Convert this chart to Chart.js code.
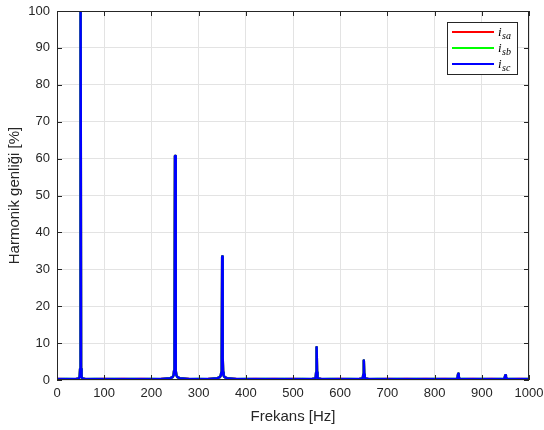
<!DOCTYPE html>
<html>
<head>
<meta charset="utf-8">
<script src="https://cdn.jsdelivr.net/npm/chart.js@4/dist/chart.umd.min.js"></script>
<style>
html,body{margin:0;padding:0;background:#fff;}
#wrap{width:544px;height:430px;position:relative;}
</style>
</head>
<body>
<div id="wrap"><canvas id="c" width="544" height="430"></canvas></div>
<script>
// Frequency axis samples [Hz]
const freqs = [0,20,40,46,48,49,50,51,52,54,60,80,100,120,140,160,180,200,220,240,245,247,248,249,250,251,252,253,255,260,280,300,320,340,345,347,348,349,350,351,352,353,355,360,380,400,420,440,460,480,500,520,540,546,548,549,550,551,552,554,560,580,600,620,640,646,648,649,650,651,652,654,660,680,700,720,740,760,780,800,820,840,846,848,849,850,851,852,854,860,880,900,920,940,946,948,949,950,951,952,954,960,980,1000];
// Harmonic amplitude [%] per phase current
const isa = [0.3,0.2,0.3,0.4,0.8,3,100,3,0.8,0.4,0.3,0.2,0.3,0.2,0.3,0.2,0.3,0.2,0.3,0.5,0.8,1.3,2.5,8,60.7,8,2.5,1.3,0.8,0.5,0.3,0.2,0.3,0.5,0.8,1.2,2,6,33.5,6,2,1.2,0.8,0.5,0.3,0.2,0.3,0.2,0.3,0.2,0.3,0.2,0.3,0.4,0.6,2,8.9,2,0.6,0.4,0.3,0.2,0.3,0.2,0.3,0.4,0.6,1.5,5.3,1.5,0.6,0.4,0.3,0.2,0.3,0.2,0.3,0.2,0.3,0.2,0.3,0.2,0.3,0.5,1,1.7,1,0.5,0.3,0.2,0.3,0.2,0.3,0.2,0.3,0.5,0.9,1.3,0.9,0.5,0.3,0.2,0.3,0.2];
const isb = [0.2,0.3,0.2,0.4,0.8,3,100,3,0.8,0.4,0.2,0.3,0.2,0.3,0.2,0.3,0.2,0.3,0.2,0.5,0.8,1.3,2.5,8,60.7,8,2.5,1.3,0.8,0.5,0.2,0.3,0.2,0.5,0.8,1.2,2,6,33.5,6,2,1.2,0.8,0.5,0.2,0.3,0.2,0.3,0.2,0.3,0.2,0.3,0.2,0.4,0.6,2,8.9,2,0.6,0.4,0.2,0.3,0.2,0.3,0.2,0.4,0.6,1.5,5.3,1.5,0.6,0.4,0.2,0.3,0.2,0.3,0.2,0.3,0.2,0.3,0.2,0.3,0.2,0.5,1,1.7,1,0.5,0.2,0.3,0.2,0.3,0.2,0.3,0.2,0.5,0.9,1.3,0.9,0.5,0.2,0.3,0.2,0.3];
const isc = [0.25,0.25,0.25,0.4,0.8,3,100,3,0.8,0.4,0.25,0.25,0.25,0.25,0.25,0.25,0.25,0.25,0.25,0.5,0.8,1.3,2.5,8,60.7,8,2.5,1.3,0.8,0.5,0.25,0.25,0.25,0.5,0.8,1.2,2,6,33.5,6,2,1.2,0.8,0.5,0.25,0.25,0.25,0.25,0.25,0.25,0.25,0.25,0.25,0.4,0.6,2,8.9,2,0.6,0.4,0.25,0.25,0.25,0.25,0.25,0.4,0.6,1.5,5.3,1.5,0.6,0.4,0.25,0.25,0.25,0.25,0.25,0.25,0.25,0.25,0.25,0.25,0.25,0.5,1,1.7,1,0.5,0.25,0.25,0.25,0.25,0.25,0.25,0.25,0.5,0.9,1.3,0.9,0.5,0.25,0.25,0.25,0.25];
const xTicks = [0,100,200,300,400,500,600,700,800,900,1000];
const yTicks = [0,10,20,30,40,50,60,70,80,90,100];
const seriesNames = ['sa','sb','sc'];
const seriesColors = ['#ff0000','#00ff00','#0000ff'];

const toPts = arr => freqs.map((f,i)=>({x:f,y:arr[i]}));
const FONT = "'Liberation Sans', Arial, sans-serif";
const TXT = '#262626';

const frame = {
  id:'frame',
  afterDraw(chart){
    const {ctx, chartArea:a, scales:{x,y}} = chart;
    ctx.save();
    ctx.strokeStyle = TXT; ctx.lineWidth = 1;
    ctx.strokeRect(a.left+0.5, a.top+0.5, a.right-a.left-1, a.bottom-a.top-1);
    const L = 5;
    ctx.beginPath();
    xTicks.forEach(v=>{ const px=Math.round(x.getPixelForValue(v))+0.5;
      ctx.moveTo(px,a.bottom); ctx.lineTo(px,a.bottom-L);
      ctx.moveTo(px,a.top); ctx.lineTo(px,a.top+L); });
    yTicks.forEach(v=>{ const py=Math.round(y.getPixelForValue(v))+0.5;
      ctx.moveTo(a.left,py); ctx.lineTo(a.left+L,py);
      ctx.moveTo(a.right,py); ctx.lineTo(a.right-L,py); });
    ctx.stroke();
    // legend
    const bx=a.right-82, by=a.top+11, bw=70, bh=52;
    ctx.fillStyle='#fff'; ctx.fillRect(bx,by,bw,bh);
    ctx.strokeStyle='#262626'; ctx.lineWidth=1;
    ctx.strokeRect(bx+0.5,by+0.5,bw,bh);
    seriesNames.forEach((n,i)=>{
      const cy = by+10+i*16;
      ctx.strokeStyle=seriesColors[i]; ctx.lineWidth=2;
      ctx.beginPath(); ctx.moveTo(bx+5,cy); ctx.lineTo(bx+47,cy); ctx.stroke();
      ctx.fillStyle='#000'; ctx.textBaseline='alphabetic'; ctx.textAlign='left';
      ctx.font="italic 13px 'Liberation Serif', 'Times New Roman', serif";
      ctx.fillText('i', bx+51, cy+4);
      ctx.font="italic 10px 'Liberation Serif', 'Times New Roman', serif";
      ctx.fillText(n, bx+55, cy+7);
    });
    ctx.restore();
  }
};

const ds = (label,arr,i,order) => ({label,data:toPts(arr),borderColor:seriesColors[i],borderWidth:2.5,
  borderJoinStyle:'round',borderCapStyle:'round',pointRadius:0,tension:0,fill:false,order});

new Chart(document.getElementById('c'),{
  type:'line',
  data:{datasets:[ds('isa',isa,0,3),ds('isb',isb,1,2),ds('isc',isc,2,1)]},
  options:{
    responsive:false, animation:false,
    layout:{padding:{top:11,right:15,left:0,bottom:0}},
    plugins:{legend:{display:false},tooltip:{enabled:false}},
    scales:{
      x:{type:'linear',min:0,max:1000,
        afterBuildTicks:s=>{s.ticks=xTicks.map(v=>({value:v}));},
        afterFit:s=>{s.height=50;s.paddingLeft=0;s.paddingRight=0;},
        grid:{color:'#e3e3e3',lineWidth:1,drawTicks:false},
        border:{display:false},
        ticks:{color:TXT,font:{family:FONT,size:13},padding:6,maxRotation:0,callback:v=>String(v)},
        title:{display:true,text:'Frekans [Hz]',color:TXT,font:{family:FONT,size:15},padding:{top:2}}
      },
      y:{min:0,max:100,
        afterBuildTicks:s=>{s.ticks=yTicks.map(v=>({value:v}));},
        afterFit:s=>{s.width=57;s.paddingTop=0;s.paddingBottom=0;},
        grid:{color:'#e3e3e3',lineWidth:1,drawTicks:false},
        border:{display:false},
        ticks:{color:TXT,font:{family:FONT,size:13},padding:7,callback:v=>String(v)},
        title:{display:true,text:'Harmonik genliği [%]',color:TXT,font:{family:FONT,size:15},padding:{top:6,bottom:0}}
      }
    }
  },
  plugins:[frame]
});
</script>
</body>
</html>
